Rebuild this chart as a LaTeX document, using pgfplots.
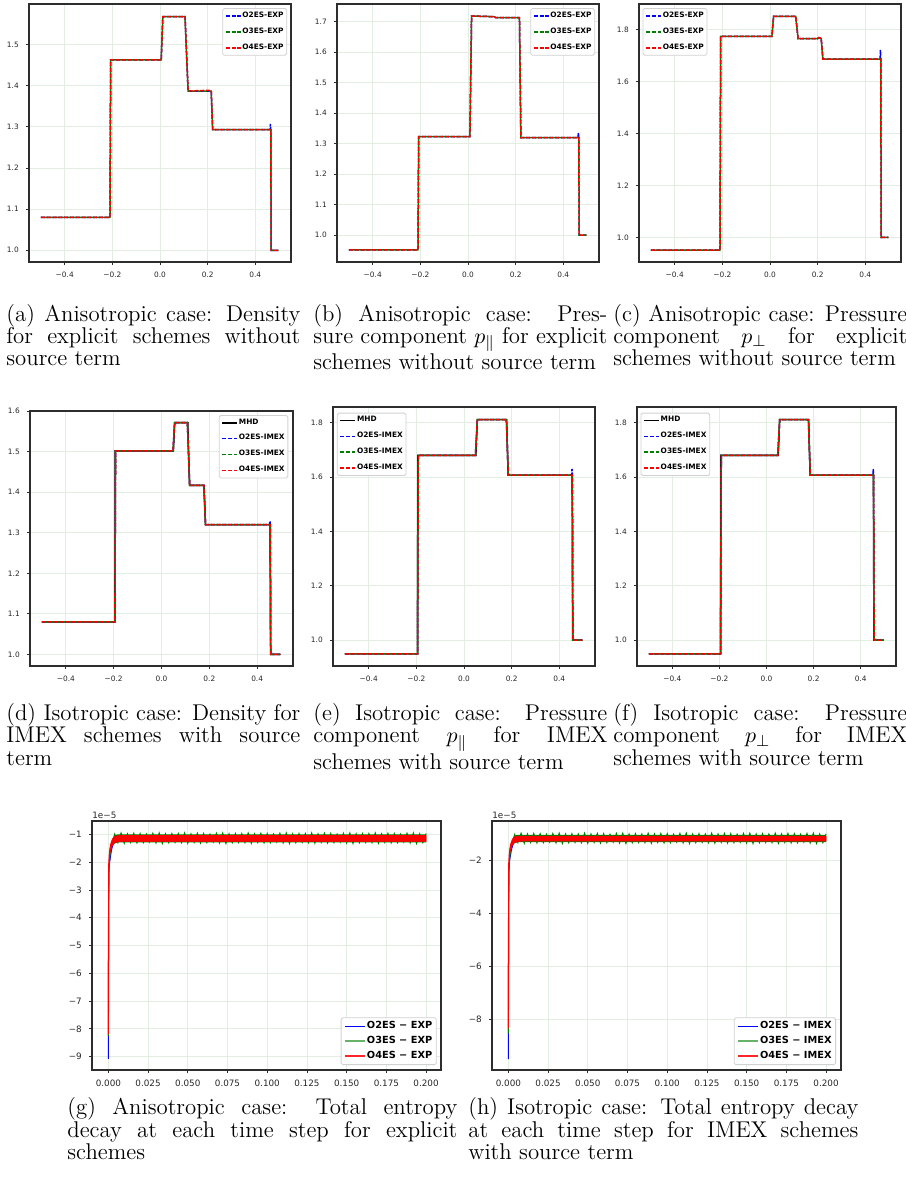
\documentclass[border=0pt]{standalone}
\usepackage{fontspec}
\newfontfamily\dejavu{DejaVu Sans}
\usepackage{pgfplots}
\pgfplotsset{compat=1.18}
\definecolor{gridc}{RGB}{226,238,226}
\definecolor{mgreen}{RGB}{0,128,0}
\definecolor{framec}{RGB}{45,45,45}
\pgfplotsset{
  base/.style={scale only axis, anchor=north west, grid=major,
    major grid style={gridc, line width=0.4pt},
    axis line style={framec, line width=0.7pt},
    tick align=outside, tick pos=left, tick style={framec, line width=0.4pt},
    major tick length=1.6pt,
    legend cell align=left},
  stepax/.style={base, xmin=-0.55, xmax=0.55,
    xtick={-0.4,-0.2,0,0.2,0.4}, xticklabels={−0.4,−0.2,0.0,0.2,0.4},
    ticklabel style={font=\dejavu\fontsize{3.7}{4.2}\selectfont, text=black!85},
    legend style={font=\dejavu\bfseries\fontsize{3.7}{4.2}\selectfont, draw=black!18,
      rounded corners=0.8pt, fill=white, inner xsep=1.2pt, inner ysep=1.2pt, row sep=2.9pt,
      nodes={inner sep=0.4pt}},
    legend image code/.code={\draw[##1, dash phase=0pt] (0pt,0pt) -- (7.5pt,0pt);}},
  entax/.style={base, xmin=-0.0103, xmax=0.2094,
    xtick={0,0.025,0.05,0.075,0.1,0.125,0.15,0.175,0.2},
    xticklabels={0.000,0.025,0.050,0.075,0.100,0.125,0.150,0.175,0.200},
    ticklabel style={font=\dejavu\fontsize{4.4}{5}\selectfont, text=black!85},
    legend style={font=\dejavu\bfseries\fontsize{4.9}{5.5}\selectfont, draw=black!18,
      rounded corners=0.8pt, fill=white, inner xsep=1.5pt, inner ysep=1.2pt, row sep=1.3pt,
      nodes={inner sep=0.5pt}},
    legend image code/.code={\draw[##1] (0pt,0pt) -- (10pt,0pt);}},
  o2/.style={blue, line width=0.75pt, dash pattern=on 2pt off 0.9pt},
  o3/.style={mgreen, line width=0.75pt, dash pattern=on 2pt off 0.9pt, dash phase=1.45pt},
  o4/.style={red, line width=0.75pt, dash pattern=on 2pt off 0.9pt},
  mhd/.style={black, line width=0.7pt},
}
\begin{document}
\begin{tikzpicture}
\useasboundingbox (0,0) rectangle (453pt,-590pt);

% ---------------- (a)
\begin{axis}[stepax, at={(14.5pt,-2pt)}, width=131pt, height=129pt,
  ymin=0.9715, ymax=1.5985, ytick={1,1.1,1.2,1.3,1.4,1.5}, yticklabels={1.0,1.1,1.2,1.3,1.4,1.5},
  legend style={at={(0.985,0.984)}, anchor=north east}]
\addplot[o2] coordinates {(-0.5,1.08)(-0.21,1.08)(-0.207,1.463)(0.005,1.463)(0.012,1.568)(0.105,1.568)(0.118,1.387)(0.215,1.387)(0.221,1.293)(0.462,1.293)(0.4635,1.307)(0.465,1.293)(0.467,1.0)(0.497,1.0)};
\addlegendentry{O2ES-EXP}
\addplot[o3] coordinates {(-0.5,1.08)(-0.21,1.08)(-0.207,1.463)(0.005,1.463)(0.012,1.568)(0.105,1.568)(0.118,1.387)(0.215,1.387)(0.221,1.293)(0.465,1.293)(0.467,1.0)(0.497,1.0)};
\addlegendentry{O3ES-EXP}
\addplot[o4] coordinates {(-0.5,1.08)(-0.21,1.08)(-0.207,1.463)(0.005,1.463)(0.012,1.568)(0.105,1.568)(0.118,1.387)(0.215,1.389)(0.221,1.293)(0.465,1.293)(0.467,1.0)(0.497,1.0)};
\addlegendentry{O4ES-EXP}
\end{axis}

% ---------------- (b)
\begin{axis}[stepax, at={(168.5pt,-2pt)}, width=131pt, height=129pt,
  ymin=0.9115, ymax=1.7585, ytick={1,1.1,1.2,1.3,1.4,1.5,1.6,1.7}, yticklabels={1.0,1.1,1.2,1.3,1.4,1.5,1.6,1.7},
  legend style={at={(0.985,0.984)}, anchor=north east}]
\addplot[o2] coordinates {(-0.5,0.951)(-0.21,0.951)(-0.207,1.323)(0.008,1.323)(0.015,1.719)(0.11,1.717)(0.115,1.714)(0.216,1.714)(0.222,1.32)(0.462,1.32)(0.4635,1.335)(0.465,1.32)(0.467,1.0)(0.497,1.0)};
\addlegendentry{O2ES-EXP}
\addplot[o3] coordinates {(-0.5,0.951)(-0.21,0.951)(-0.207,1.323)(0.008,1.323)(0.015,1.719)(0.11,1.717)(0.115,1.714)(0.216,1.714)(0.222,1.32)(0.465,1.32)(0.467,1.0)(0.497,1.0)};
\addlegendentry{O3ES-EXP}
\addplot[o4] coordinates {(-0.5,0.951)(-0.21,0.951)(-0.207,1.323)(0.008,1.323)(0.015,1.719)(0.11,1.717)(0.115,1.714)(0.216,1.714)(0.222,1.32)(0.465,1.32)(0.467,1.0)(0.497,1.0)};
\addlegendentry{O4ES-EXP}
\end{axis}

% ---------------- (c)
\begin{axis}[stepax, at={(319.5pt,-2pt)}, width=131pt, height=129pt,
  ymin=0.905, ymax=1.899, ytick={1,1.2,1.4,1.6,1.8}, yticklabels={1.0,1.2,1.4,1.6,1.8},
  legend style={at={(0.014,0.984)}, anchor=north west}]
\addplot[o2] coordinates {(-0.5,0.951)(-0.21,0.951)(-0.207,1.774)(0.008,1.774)(0.015,1.851)(0.108,1.851)(0.118,1.766)(0.2,1.766)(0.205,1.769)(0.215,1.766)(0.222,1.687)(0.462,1.687)(0.4635,1.722)(0.465,1.687)(0.467,1.0)(0.497,1.0)};
\addlegendentry{O2ES-EXP}
\addplot[o3] coordinates {(-0.5,0.951)(-0.21,0.951)(-0.207,1.774)(0.008,1.774)(0.015,1.851)(0.108,1.851)(0.118,1.766)(0.215,1.766)(0.222,1.687)(0.465,1.687)(0.467,1.0)(0.497,1.0)};
\addlegendentry{O3ES-EXP}
\addplot[o4] coordinates {(-0.5,0.951)(-0.21,0.951)(-0.207,1.774)(0.008,1.774)(0.015,1.851)(0.108,1.851)(0.118,1.766)(0.2,1.766)(0.205,1.77)(0.215,1.766)(0.222,1.687)(0.465,1.687)(0.467,1.0)(0.497,1.0)};
\addlegendentry{O4ES-EXP}
\end{axis}

% ---------------- (d)
\begin{axis}[stepax, at={(15pt,-205.5pt)}, width=131.5pt, height=127.5pt,
  ymin=0.9714, ymax=1.6005, ytick={1,1.1,1.2,1.3,1.4,1.5,1.6}, yticklabels={1.0,1.1,1.2,1.3,1.4,1.5,1.6},
  legend style={at={(0.982,0.984)}, anchor=north east}]
\addplot[mhd] coordinates {(-0.5,1.08)(-0.195,1.08)(-0.194,1.502)(0.05,1.502)(0.055,1.572)(0.11,1.572)(0.117,1.417)(0.178,1.417)(0.184,1.32)(0.454,1.32)(0.456,1.0)(0.497,1.0)};
\addlegendentry{MHD}
\addplot[o2] coordinates {(-0.5,1.08)(-0.195,1.08)(-0.192,1.502)(0.048,1.502)(0.055,1.572)(0.108,1.572)(0.118,1.417)(0.177,1.417)(0.184,1.32)(0.452,1.32)(0.4535,1.33)(0.455,1.32)(0.457,1.0)(0.497,1.0)};
\addlegendentry{O2ES-IMEX}
\addplot[o3] coordinates {(-0.5,1.08)(-0.195,1.08)(-0.192,1.502)(0.048,1.502)(0.055,1.572)(0.108,1.572)(0.118,1.417)(0.177,1.417)(0.184,1.32)(0.455,1.32)(0.457,1.0)(0.497,1.0)};
\addlegendentry{O3ES-IMEX}
\addplot[o4] coordinates {(-0.5,1.08)(-0.195,1.08)(-0.192,1.502)(0.048,1.502)(0.055,1.572)(0.108,1.572)(0.118,1.417)(0.177,1.417)(0.184,1.32)(0.455,1.32)(0.457,1.0)(0.497,1.0)};
\addlegendentry{O4ES-IMEX}
\end{axis}

% ---------------- (e)
\begin{axis}[stepax, at={(166.5pt,-203.5pt)}, width=131pt, height=129.5pt,
  ymin=0.905, ymax=1.858, ytick={1,1.2,1.4,1.6,1.8}, yticklabels={1.0,1.2,1.4,1.6,1.8},
  legend style={at={(0.015,0.978)}, anchor=north west}]
\addplot[mhd] coordinates {(-0.5,0.95)(-0.195,0.95)(-0.194,1.68)(0.05,1.68)(0.056,1.812)(0.179,1.812)(0.185,1.607)(0.454,1.607)(0.456,1.0)(0.497,1.0)};
\addlegendentry{MHD}
\addplot[o2] coordinates {(-0.5,0.95)(-0.195,0.95)(-0.192,1.68)(0.048,1.68)(0.056,1.812)(0.178,1.812)(0.186,1.607)(0.452,1.607)(0.4535,1.63)(0.455,1.607)(0.457,1.0)(0.497,1.0)};
\addlegendentry{O2ES-IMEX}
\addplot[o3] coordinates {(-0.5,0.95)(-0.195,0.95)(-0.192,1.68)(0.048,1.68)(0.056,1.812)(0.178,1.812)(0.186,1.607)(0.455,1.607)(0.457,1.0)(0.497,1.0)};
\addlegendentry{O3ES-IMEX}
\addplot[o4] coordinates {(-0.5,0.95)(-0.195,0.95)(-0.192,1.68)(0.048,1.68)(0.056,1.812)(0.178,1.812)(0.186,1.607)(0.455,1.607)(0.457,1.0)(0.497,1.0)};
\addlegendentry{O4ES-IMEX}
\end{axis}

% ---------------- (f)
\begin{axis}[stepax, at={(318.5pt,-203.5pt)}, width=129.5pt, height=129.5pt,
  ymin=0.905, ymax=1.858, ytick={1,1.2,1.4,1.6,1.8}, yticklabels={1.0,1.2,1.4,1.6,1.8},
  legend style={at={(0.014,0.978)}, anchor=north west}]
\addplot[mhd] coordinates {(-0.5,0.95)(-0.195,0.95)(-0.194,1.68)(0.05,1.68)(0.056,1.812)(0.179,1.812)(0.185,1.607)(0.454,1.607)(0.456,1.0)(0.497,1.0)};
\addlegendentry{MHD}
\addplot[o2] coordinates {(-0.5,0.95)(-0.195,0.95)(-0.192,1.68)(0.048,1.68)(0.056,1.812)(0.178,1.812)(0.186,1.607)(0.452,1.607)(0.4535,1.63)(0.455,1.607)(0.457,1.0)(0.497,1.0)};
\addlegendentry{O2ES-IMEX}
\addplot[o3] coordinates {(-0.5,0.95)(-0.195,0.95)(-0.192,1.68)(0.048,1.68)(0.056,1.812)(0.178,1.812)(0.186,1.607)(0.455,1.607)(0.457,1.0)(0.497,1.0)};
\addlegendentry{O3ES-IMEX}
\addplot[o4] coordinates {(-0.5,0.95)(-0.195,0.95)(-0.192,1.68)(0.048,1.68)(0.056,1.812)(0.178,1.812)(0.186,1.607)(0.455,1.607)(0.457,1.0)(0.497,1.0)};
\addlegendentry{O4ES-IMEX}
\end{axis}

% ---------------- (g)
\begin{axis}[entax, name=gax, at={(46pt,-410.5pt)}, width=174.5pt, height=124.5pt,
  ymin=-9.48, ymax=-0.52, ytick={-9,-8,-7,-6,-5,-4,-3,-2,-1}, yticklabels={−9,−8,−7,−6,−5,−4,−3,−2,−1},
  legend style={at={(0.9877,0.02)}, anchor=south east}]
\addplot[blue, line width=0.5pt, forget plot] coordinates {(0,-9.08)(0.00005,-7)(0.0001,-5)(0.0002,-3)(0.0004,-2.2)(0.0008,-2.0)(0.0012,-1.85)(0.002,-1.55)(0.003,-1.35)(0.005,-1.2)(0.01,-1.16)(0.2,-1.16)};
\addplot[fill=mgreen, draw=none, forget plot] coordinates {(0.003,-1.12)(0.004,-1.03)(0.006,-1.0)(0.2,-1.0)(0.2,-1.29)(0.006,-1.29)(0.004,-1.33)(0.003,-1.36)};
\addplot[mgreen, line width=0.5pt, forget plot] coordinates {(0,-8.25)(0.0001,-5.2)(0.0002,-3.3)(0.0004,-2.35)(0.0008,-1.85)(0.0015,-1.52)(0.0025,-1.3)
(0.004,-0.99)(0.006,-1.30)(0.008,-0.95)(0.010,-1.32)(0.012,-0.98)(0.014,-1.29)(0.016,-0.96)(0.018,-1.31)(0.020,-0.97)(0.022,-1.30)(0.024,-0.99)(0.026,-1.28)(0.028,-0.96)(0.030,-1.31)(0.032,-0.95)(0.034,-1.33)(0.036,-0.98)(0.038,-1.30)(0.040,-0.97)(0.042,-1.29)
(0.044,-0.97)(0.046,-1.30)(0.048,-0.95)(0.050,-1.32)(0.052,-0.98)(0.054,-1.29)(0.056,-0.96)(0.058,-1.31)(0.060,-0.97)(0.062,-1.30)(0.064,-0.99)(0.066,-1.28)(0.068,-0.96)(0.070,-1.31)(0.072,-0.95)(0.074,-1.33)(0.076,-0.98)(0.078,-1.30)(0.080,-0.97)(0.082,-1.29)
(0.084,-0.97)(0.086,-1.30)(0.088,-0.95)(0.090,-1.32)(0.092,-0.98)(0.094,-1.29)(0.096,-0.96)(0.098,-1.31)(0.100,-0.97)(0.102,-1.30)(0.104,-0.99)(0.106,-1.28)(0.108,-0.96)(0.110,-1.31)(0.112,-0.95)(0.114,-1.33)(0.116,-0.98)(0.118,-1.30)(0.120,-0.97)(0.122,-1.29)
(0.124,-0.97)(0.126,-1.30)(0.128,-0.95)(0.130,-1.32)(0.132,-0.98)(0.134,-1.29)(0.136,-0.96)(0.138,-1.31)(0.140,-0.97)(0.142,-1.30)(0.144,-0.99)(0.146,-1.28)(0.148,-0.96)(0.150,-1.31)(0.152,-0.95)(0.154,-1.33)(0.156,-0.98)(0.158,-1.30)(0.160,-0.97)(0.162,-1.29)
(0.164,-0.97)(0.166,-1.30)(0.168,-0.95)(0.170,-1.32)(0.172,-0.98)(0.174,-1.29)(0.176,-0.96)(0.178,-1.31)(0.180,-0.97)(0.182,-1.30)(0.184,-0.99)(0.186,-1.28)(0.188,-0.96)(0.190,-1.31)(0.192,-0.95)(0.194,-1.33)(0.196,-0.98)(0.198,-1.30)(0.200,-0.97)};
\addplot[red, line width=0.6pt, forget plot] coordinates {(0,-8.2)(0.0001,-5)(0.0002,-3)(0.0003,-2.05)(0.0006,-1.75)(0.001,-1.55)(0.0015,-1.42)(0.0022,-1.3)(0.003,-1.22)};
\addplot[fill=red, draw=red, line width=0.3pt, forget plot] coordinates {(0.0008,-1.65)(0.0012,-1.4)(0.0018,-1.28)(0.0025,-1.17)(0.0035,-1.09)(0.005,-1.06)(0.008,-1.04)(0.2,-1.04)(0.2,-1.26)(0.008,-1.26)(0.005,-1.28)(0.0035,-1.32)(0.0025,-1.4)(0.0018,-1.5)(0.0012,-1.62)(0.0008,-1.75)};
\addlegendimage{blue, line width=0.6pt}
\addlegendentry{O2ES − EXP}
\addlegendimage{mgreen, opacity=0.6, line width=0.9pt}
\addlegendentry{O3ES − EXP}
\addlegendimage{red, opacity=0.85, line width=0.9pt}
\addlegendentry{O4ES − EXP}
\end{axis}
\node[anchor=south west, inner sep=0, font=\dejavu\fontsize{4.4}{5}\selectfont, text=black!85] at ([yshift=0.9pt]gax.north west) {1e−5};

% ---------------- (h)
\begin{axis}[entax, name=hax, at={(246pt,-410.5pt)}, width=174.5pt, height=124.5pt,
  ymin=-9.93, ymax=-0.51, ytick={-8,-6,-4,-2}, yticklabels={−8,−6,−4,−2},
  legend style={at={(0.9857,0.02)}, anchor=south east}]
\addplot[blue, line width=0.5pt, forget plot] coordinates {(0,-9.52)(0.00005,-7.5)(0.0001,-5.2)(0.0002,-3.1)(0.0004,-2.3)(0.0008,-2.0)(0.0012,-1.85)(0.002,-1.58)(0.003,-1.38)(0.005,-1.22)(0.01,-1.18)(0.2,-1.18)};
\addplot[fill=mgreen, draw=none, forget plot] coordinates {(0.003,-1.15)(0.004,-1.06)(0.006,-1.03)(0.2,-1.03)(0.2,-1.31)(0.006,-1.31)(0.004,-1.35)(0.003,-1.38)};
\addplot[mgreen, line width=0.5pt, forget plot] coordinates {(0,-8.54)(0.0001,-5.5)(0.0002,-3.4)(0.0004,-2.4)(0.0008,-1.9)(0.0015,-1.55)(0.0025,-1.32)
(0.004,-1.02)(0.006,-1.33)(0.008,-0.97)(0.010,-1.35)(0.012,-1.00)(0.014,-1.32)(0.016,-0.98)(0.018,-1.34)(0.020,-0.99)(0.022,-1.33)(0.024,-1.01)(0.026,-1.31)(0.028,-0.98)(0.030,-1.34)(0.032,-0.97)(0.034,-1.36)(0.036,-1.00)(0.038,-1.33)(0.040,-0.99)(0.042,-1.32)
(0.044,-1.00)(0.046,-1.33)(0.048,-0.97)(0.050,-1.35)(0.052,-1.00)(0.054,-1.32)(0.056,-0.98)(0.058,-1.34)(0.060,-0.99)(0.062,-1.33)(0.064,-1.01)(0.066,-1.31)(0.068,-0.98)(0.070,-1.34)(0.072,-0.97)(0.074,-1.36)(0.076,-1.00)(0.078,-1.33)(0.080,-0.99)(0.082,-1.32)
(0.084,-1.00)(0.086,-1.33)(0.088,-0.97)(0.090,-1.35)(0.092,-1.00)(0.094,-1.32)(0.096,-0.98)(0.098,-1.34)(0.100,-0.99)(0.102,-1.33)(0.104,-1.01)(0.106,-1.31)(0.108,-0.98)(0.110,-1.34)(0.112,-0.97)(0.114,-1.36)(0.116,-1.00)(0.118,-1.33)(0.120,-0.99)(0.122,-1.32)
(0.124,-1.00)(0.126,-1.33)(0.128,-0.97)(0.130,-1.35)(0.132,-1.00)(0.134,-1.32)(0.136,-0.98)(0.138,-1.34)(0.140,-0.99)(0.142,-1.33)(0.144,-1.01)(0.146,-1.31)(0.148,-0.98)(0.150,-1.34)(0.152,-0.97)(0.154,-1.36)(0.156,-1.00)(0.158,-1.33)(0.160,-0.99)(0.162,-1.32)
(0.164,-1.00)(0.166,-1.33)(0.168,-0.97)(0.170,-1.35)(0.172,-1.00)(0.174,-1.32)(0.176,-0.98)(0.178,-1.34)(0.180,-0.99)(0.182,-1.33)(0.184,-1.01)(0.186,-1.31)(0.188,-0.98)(0.190,-1.34)(0.192,-0.97)(0.194,-1.36)(0.196,-1.00)(0.198,-1.33)(0.200,-0.99)};
\addplot[red, line width=0.6pt, forget plot] coordinates {(0,-8.35)(0.0001,-5.2)(0.0002,-3.1)(0.0003,-2.1)(0.0006,-1.78)(0.001,-1.58)(0.0015,-1.45)(0.0022,-1.33)(0.003,-1.25)};
\addplot[fill=red, draw=red, line width=0.3pt, forget plot] coordinates {(0.0008,-1.68)(0.0012,-1.43)(0.0018,-1.31)(0.0025,-1.2)(0.0035,-1.12)(0.005,-1.09)(0.008,-1.08)(0.2,-1.08)(0.2,-1.27)(0.008,-1.27)(0.005,-1.3)(0.0035,-1.34)(0.0025,-1.42)(0.0018,-1.52)(0.0012,-1.64)(0.0008,-1.78)};
\addlegendimage{blue, line width=0.6pt}
\addlegendentry{O2ES − IMEX}
\addlegendimage{mgreen, opacity=0.6, line width=0.9pt}
\addlegendentry{O3ES − IMEX}
\addlegendimage{red, opacity=0.85, line width=0.9pt}
\addlegendentry{O4ES − IMEX}
\end{axis}
\node[anchor=south west, inner sep=0, font=\dejavu\fontsize{4.4}{5}\selectfont, text=black!85] at ([yshift=0.9pt]hax.north west) {1e−5};

% ---------------- captions
\tikzset{capt/.style={anchor=base west, inner sep=0, font=\fontsize{11.4}{11.2}\selectfont}}
\node[capt] at (3pt,-160.5pt) {\vtop{\baselineskip=11.1pt\hbox to 147pt{(a) Anisotropic case: Density}\hbox to 147pt{for explicit schemes without}\hbox{source term}}};
\node[capt] at (156.5pt,-160.5pt) {\vtop{\baselineskip=11.1pt\hbox to 147pt{(b) Anisotropic case: Pres-}\hbox to 147pt{sure component $p_{\parallel}$ for explicit}\hbox{schemes without source term}}};
\node[capt] at (306.5pt,-160.5pt) {\vtop{\baselineskip=11.1pt\hbox to 147pt{(c) Anisotropic case: Pressure}\hbox to 147pt{component $p_{\perp}$ for explicit}\hbox{schemes without source term}}};
\node[capt] at (3pt,-360pt) {\vtop{\baselineskip=11.4pt\hbox to 147pt{(d) Isotropic case: Density for}\hbox to 147pt{IMEX schemes with source}\hbox{term}}};
\node[capt] at (156.5pt,-360pt) {\vtop{\baselineskip=11.4pt\hbox to 147pt{(e) Isotropic case: Pressure}\hbox to 147pt{component $p_{\parallel}$ for IMEX}\hbox{schemes with source term}}};
\node[capt] at (306.5pt,-360pt) {\vtop{\baselineskip=11.4pt\hbox to 147pt{(f) Isotropic case: Pressure}\hbox to 147pt{component $p_{\perp}$ for IMEX}\hbox{schemes with source term}}};
\node[capt] at (33.5pt,-557.3pt) {\vtop{\baselineskip=11.2pt\hbox to 195pt{(g) Anisotropic case: Total entropy}\hbox to 195pt{decay at each time step for explicit}\hbox{schemes}}};
\node[capt] at (234pt,-557.3pt) {\vtop{\baselineskip=11.2pt\hbox to 195pt{(h) Isotropic case: Total entropy decay}\hbox to 195pt{at each time step for IMEX schemes}\hbox{with source term}}};
\end{tikzpicture}
\end{document}
